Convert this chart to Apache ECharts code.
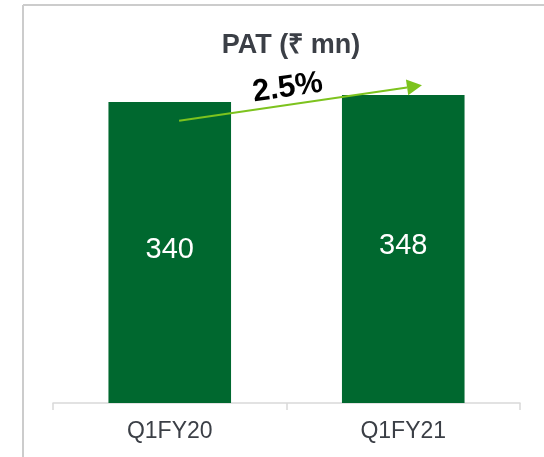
<!DOCTYPE html>
<html>
<head>
<meta charset="utf-8">
<script src="https://cdn.jsdelivr.net/npm/echarts@6/dist/echarts.min.js"></script>
<style>
html,body{margin:0;padding:0;background:#fff;}
#c{width:544px;height:457px;}
</style>
</head>
<body>
<div id="c"></div>
<script>
// ---- data ----
var categories = ['Q1FY20', 'Q1FY21'];
var patValues = [340, 348];
var chartTitle = 'PAT (₹ mn)';
var growthLabel = '2.5%';
// arrow annotation: [category index + fraction of band, value]
var arrowStart = [0.04, 319];
var arrowEnd = [1.08, 359];
var growthLabelPos = [0.505, 356];

var FONT = 'Liberation Sans, Arial, sans-serif';
var chart = echarts.init(document.getElementById('c'), null, {renderer: 'canvas'});

var option = {
  animation: false,
  backgroundColor: '#ffffff',
  title: {
    text: chartTitle,
    left: 286,
    textAlign: 'center',
    top: 27,
    textStyle: {fontFamily: FONT, fontSize: 27, fontWeight: 'bold', color: '#3b3f46'}
  },
  grid: {left: 53, right: 24, top: 49, bottom: 54},
  xAxis: {
    type: 'category',
    data: categories,
    axisLine: {show: true, lineStyle: {color: '#d9d9d9', width: 1.5}},
    axisTick: {show: true, length: 7, lineStyle: {color: '#d9d9d9', width: 1.5}},
    axisLabel: {fontFamily: FONT, fontSize: 23, color: '#3b3f46', margin: 17}
  },
  yAxis: {
    type: 'value',
    min: 0,
    max: 400,
    show: false,
    splitLine: {show: false}
  },
  series: [{
    type: 'bar',
    data: patValues,
    barWidth: '52.5%',
    itemStyle: {color: '#00682f'},
    label: {
      show: true,
      position: 'inside',
      offset: [0, -3],
      color: '#ffffff',
      fontFamily: FONT,
      fontSize: 29
    }
  }]
};
chart.setOption(option);

function toPx(p) {
  var x0 = chart.convertToPixel({xAxisIndex: 0}, 0);
  var x1 = chart.convertToPixel({xAxisIndex: 0}, 1);
  var band = x1 - x0;
  return [x0 + p[0] * band, chart.convertToPixel({yAxisIndex: 0}, p[1])];
}
var s = toPx(arrowStart), e = toPx(arrowEnd), t = toPx(growthLabelPos);
var ang = Math.atan2(e[1] - s[1], e[0] - s[0]);
var headLen = 15, headW = 8;
var bx = e[0] - headLen * Math.cos(ang), by = e[1] - headLen * Math.sin(ang);
var nx = -Math.sin(ang), ny = Math.cos(ang);

chart.setOption({
  graphic: [
    {type: 'line', shape: {x1: 23, y1: 5, x2: 544, y2: 5}, style: {stroke: '#cccccc', lineWidth: 2}, silent: true},
    {type: 'line', shape: {x1: 23, y1: 5, x2: 23, y2: 457}, style: {stroke: '#cccccc', lineWidth: 2}, silent: true},
    {type: 'line', shape: {x1: s[0], y1: s[1], x2: bx, y2: by}, style: {stroke: '#7dc31e', lineWidth: 2}, z: 10},
    {type: 'polygon', shape: {points: [[e[0], e[1]], [bx + nx * headW, by + ny * headW], [bx - nx * headW, by - ny * headW]]}, style: {fill: '#7dc31e'}, z: 10},
    {type: 'text', x: t[0], y: t[1], rotation: -ang, z: 11,
      style: {text: growthLabel, fontFamily: FONT, fontSize: 31, fontWeight: 'bold', fill: '#000000', align: 'center', verticalAlign: 'middle'}}
  ]
});
</script>
</body>
</html>
